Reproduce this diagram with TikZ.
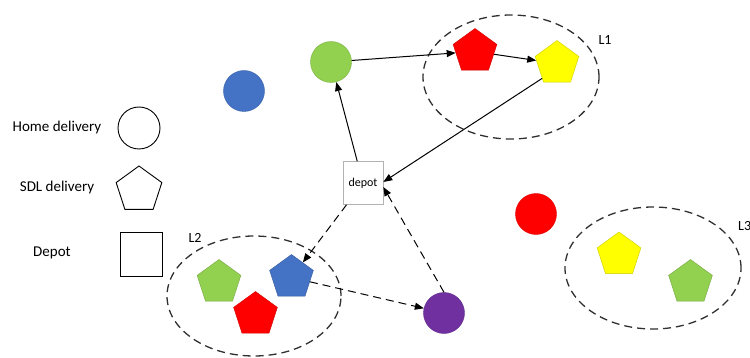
\documentclass[tikz,border=0pt]{standalone}
\usepackage{fontspec}
\setmainfont{Carlito}
\usetikzlibrary{shapes.geometric,arrows.meta}
\definecolor{cgreen}{HTML}{92D050}
\definecolor{cred}{HTML}{FF0000}
\definecolor{cyellow}{HTML}{FFFF00}
\definecolor{cblue}{HTML}{4472C4}
\definecolor{cpurple}{HTML}{7030A0}
\definecolor{cgray}{HTML}{303030}
\tikzset{
  dot/.style={circle, fill=#1, draw=#1!85!black, line width=0.4pt, minimum size=41pt, inner sep=0pt},
  pent/.style={regular polygon, regular polygon sides=5, fill=#1, draw=#1!80!black, line width=0.4pt, minimum size=46pt, inner sep=0pt},
  cluster/.style={ellipse, draw=cgray, line width=1.3pt, dash pattern=on 8pt off 5pt, inner sep=0pt},
  conn/.style={line width=1pt, -{Triangle[length=9pt,width=7pt]}},
  dconn/.style={conn, dash pattern=on 8pt off 5pt},
  lbl/.style={font=\fontsize{14}{16}\selectfont, inner sep=0pt},
  legtxt/.style={font=\fontsize{15}{17}\selectfont, inner sep=0pt},
  legshape/.style={draw=black, line width=0.9pt, fill=white, inner sep=0pt},
}
\begin{document}
\begin{tikzpicture}[x=1pt,y=-1pt]
\useasboundingbox (0,0) rectangle (750,358);
% legend
\node[legtxt] (th) at (57,128) {Home delivery};
\node[legshape, circle, minimum size=42pt] (lc) at (139,128) {};
\node[legtxt] (ts) at (57,188) {SDL delivery};
\node[legshape, regular polygon, regular polygon sides=5, minimum size=48pt] (lp) at (139,190) {};
\node[legtxt] (td) at (52,253) {Depot};
\node[legshape, rectangle, minimum width=42pt, minimum height=44pt] (ls) at (141,254) {};
% clusters
\node[cluster, minimum width=176pt, minimum height=124pt] (L1) at (511,77) {};
\node[cluster, minimum width=174pt, minimum height=120pt] (L2) at (254,296) {};
\node[cluster, minimum width=176pt, minimum height=122pt] (L3) at (653,268) {};
\node[lbl] (l1) at (605,40) {L1};
\node[lbl] (l2) at (195,238) {L2};
\node[lbl, anchor=west] (l3) at (738,226) {L3};
% nodes
\node[dot=cblue] (b) at (244,91) {};
\node[dot=cgreen] (g) at (331,62) {};
\node[pent=cred] (r1) at (475,51.5) {};
\node[pent=cyellow] (y1) at (557,63.5) {};
\node[rectangle, draw=gray!60, line width=0.6pt, fill=white, minimum width=40pt, minimum height=43pt, font=\fontsize{12}{14}\selectfont] (d) at (363,183) {depot};
\node[pent=cgreen] (g2) at (219,282.5) {};
\node[pent=cblue] (b2) at (291.5,277.5) {};
\node[pent=cred] (r2) at (255.5,314.5) {};
\node[dot=cpurple] (p) at (444,313) {};
\node[dot=cred] (r) at (536,214) {};
\node[pent=cyellow] (y3) at (619,255) {};
\node[pent=cgreen] (g3) at (690.5,282.5) {};
% connectors
\draw[conn] (d) -- (g);
\draw[conn] (g) -- (r1);
\draw[conn] (r1) -- (y1);
\draw[conn] (y1.south west) -- ([yshift=1pt]d.east);
\draw[dconn] (d) -- (b2);
\draw[dconn] (b2) -- (p);
\draw[dconn] (p.north) -- ([yshift=-4pt]d.east);
\end{tikzpicture}
\end{document}
